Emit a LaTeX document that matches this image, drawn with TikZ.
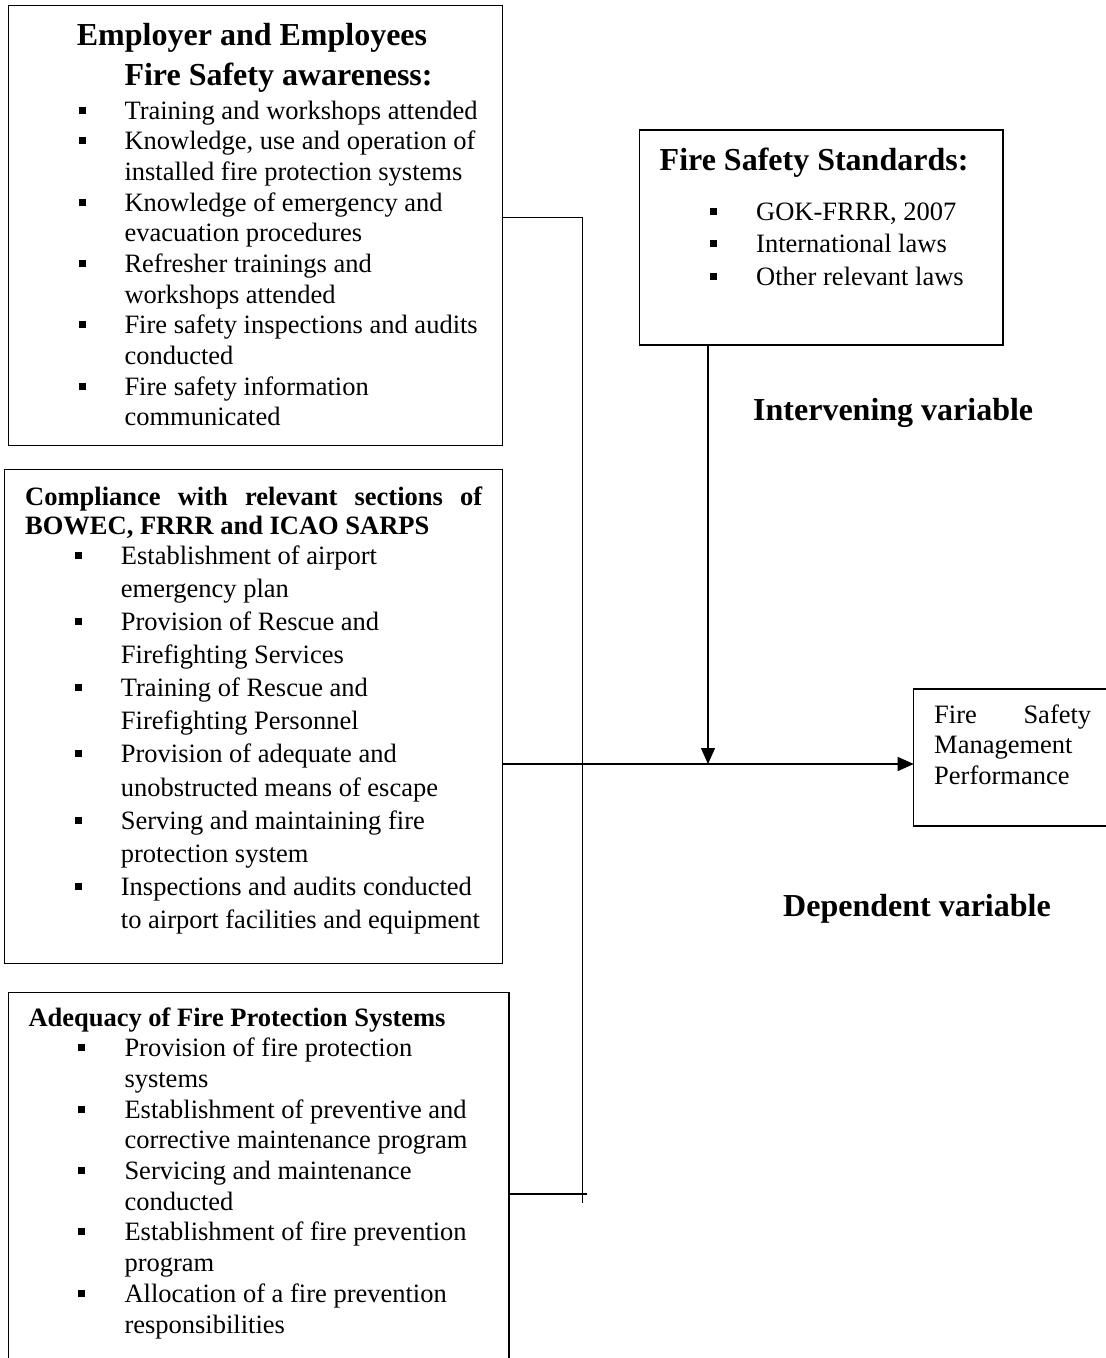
\documentclass[tikz,border=0pt]{standalone}
\usepackage{fontspec}
\setmainfont{Liberation Serif}
\usepackage{tikz}
\usetikzlibrary{arrows.meta}

\newcommand{\bsq}{\rule[5.5pt]{7pt}{7pt}}
\newcommand{\headsize}{\fontsize{32}{39.3}\selectfont}

\begin{document}
\begin{tikzpicture}[x=1pt, y=-1pt, every path/.style={line cap=rect}]

        \tikzset{box/.style = {draw, line width=1.4pt, inner sep=0pt, outer sep=0pt, anchor=north west}}
        \tikzset{txt/.style = {inner sep=0pt, anchor=base west}}
        \tikzset{link/.style = {line width=1.4pt}}
        \tikzset{flow/.style = {line width=1.4pt, -{Triangle[length=16pt, width=14pt]}}}

        \useasboundingbox (0,0) rectangle (1106,1358);

        % boxes
        \node[box, minimum width=494.4, minimum height=440] (aware) at (8.3,5.7) {};
        \node[box, minimum width=498, minimum height=494] (compl) at (4.3,469.3) {};
        \node[box, minimum width=500.7, minimum height=400] (adequ) at (8.3,992.3) {};
        \node[box, minimum width=363.6, minimum height=215] (std) at (639.4,130) {};
        \node[box, minimum width=220, minimum height=137] (perf) at (913.7,689) {};

        % awareness
        \node[txt, font=\headsize\bfseries] (aware head) at (76.7,45.7)
            {\begin{tabular}[t]{@{}l@{}}Employer and Employees\\ \hspace{47.6pt}Fire Safety awareness:\end{tabular}};
        \node[txt, font=\fontsize{26.5}{30.65}\selectfont] (aware list) at (78.3,119.3)
            {\begin{tabular}[t]{@{}p{46pt}@{}l@{}}
            \bsq & Training and workshops attended\\
            \bsq & Knowledge, use and operation of\\
                 & installed fire protection systems\\
            \bsq & Knowledge of emergency and\\
                 & evacuation procedures\\
            \bsq & Refresher trainings and\\
                 & workshops attended\\
            \bsq & Fire safety inspections and audits\\
                 & conducted\\
            \bsq & Fire safety information\\
                 & communicated
            \end{tabular}};

        % compliance
        \node[txt, font=\fontsize{26.5}{29.3}\selectfont\bfseries] (compl head) at (25,505)
            {\begin{tabular}[t]{@{}l@{}}\makebox[457pt][s]{Compliance with relevant sections of}\\ BOWEC, FRRR and ICAO SARPS\end{tabular}};
        \node[txt, font=\fontsize{26.5}{33.1}\selectfont] (compl list) at (75,564.3)
            {\begin{tabular}[t]{@{}p{45.7pt}@{}l@{}}
            \bsq & Establishment of airport\\
                 & emergency plan\\
            \bsq & Provision of Rescue and\\
                 & Firefighting Services\\
            \bsq & Training of Rescue and\\
                 & Firefighting Personnel\\
            \bsq & Provision of adequate and\\
                 & unobstructed means of escape\\
            \bsq & Serving and maintaining fire\\
                 & protection system\\
            \bsq & Inspections and audits conducted\\
                 & to airport facilities and equipment
            \end{tabular}};

        % adequacy
        \node[txt, font=\fontsize{26.5}{30.7}\selectfont\bfseries] (adequ head) at (28.3,1026.7)
            {Adequacy of Fire Protection Systems};
        \node[txt, font=\fontsize{26.5}{30.7}\selectfont] (adequ list) at (78,1056.7)
            {\begin{tabular}[t]{@{}p{46.3pt}@{}l@{}}
            \bsq & Provision of fire protection\\
                 & systems\\
            \bsq & Establishment of preventive and\\
                 & corrective maintenance program\\
            \bsq & Servicing and maintenance\\
                 & conducted\\
            \bsq & Establishment of fire prevention\\
                 & program\\
            \bsq & Allocation of a fire prevention\\
                 & responsibilities
            \end{tabular}};

        % standards
        \node[txt, font=\headsize\bfseries] (std head) at (659.5,170) {Fire Safety Standards:};
        \node[txt, font=\fontsize{26.5}{32.8}\selectfont] (std list) at (710,220)
            {\begin{tabular}[t]{@{}p{46pt}@{}l@{}}
            \bsq & GOK-FRRR, 2007\\
            \bsq & International laws\\
            \bsq & Other relevant laws
            \end{tabular}};

        % performance
        \node[txt, font=\fontsize{26.5}{30.5}\selectfont] (perf text) at (934,723)
            {\begin{tabular}[t]{@{}l@{}}\makebox[157pt][s]{Fire Safety}\\ Management\\ Performance\end{tabular}};

        \node[txt, font=\headsize\bfseries] (interv) at (753,420) {Intervening variable};
        \node[txt, font=\headsize\bfseries] (depend) at (783,916.7) {Dependent variable};

        % connectors
        \coordinate (bus top) at (582.7,217.7);
        \coordinate (bus end) at (582.7,1202);
        \coordinate (bus low) at (586,1194);
        \coordinate (meet) at (708,764);

        \draw[link] (aware.east |- bus top) -- (bus top) -- (bus end);
        \draw[link] (adequ.east |- bus low) -- (bus low);
        \draw[flow] (compl.east |- meet) -- (perf.west |- meet);
        \draw[flow] (std.south -| meet) -- (meet);

\end{tikzpicture}
\end{document}
